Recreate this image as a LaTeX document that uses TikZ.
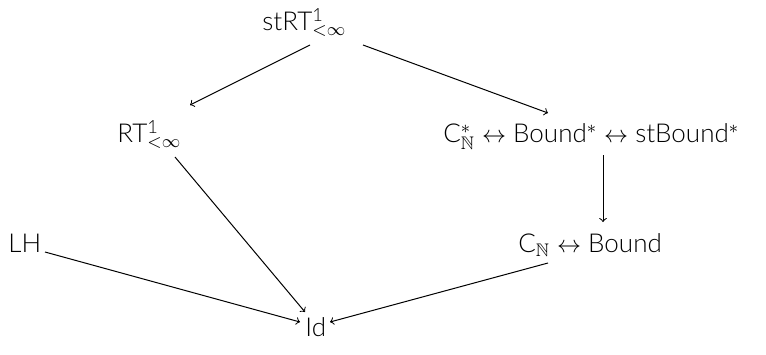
\documentclass[tikz,border=0pt]{standalone}
\usepackage{amsmath,amssymb}
\usepackage{fontspec}
\setmainfont{Lato Light}
\begin{document}
\begin{tikzpicture}[x=0.5pt,y=-0.5pt,
  lbl/.style={inner sep=0pt,anchor=base west,font=\fontsize{13}{15}\selectfont},
  arr/.style={->,line width=0.5pt}]
\useasboundingbox (0,0) rectangle (766,354);
\node[lbl] (st) at (262,30) {stRT$^{\text{1}}_{<\infty}$};
\node[lbl] (rt) at (117,142) {RT$^{\text{1}}_{<\infty}$};
\node[lbl] (cs) at (443,142) {C$^{*}_{\mathbb{N}}$ $\leftrightarrow$ Bound$^{*}$ $\leftrightarrow$ stBound$^{*}$};
\node[lbl] (cn) at (518,252) {C$_{\mathbb{N}}$ $\leftrightarrow$ Bound};
\node[lbl] (lh) at (8,252) {LH};
\node[lbl] (id) at (305,336) {Id};
\draw[arr] ([shift={(48,15)}]st.base west) -- ([shift={(73,-37)}]rt.base west);
\draw[arr] ([shift={(101,15)}]st.base west) -- ([shift={(105,-29)}]cs.base west);
\draw[arr] ([shift={(58,15)}]rt.base west) -- ([shift={(0,-24)}]id.base west);
\draw[arr] ([shift={(160,13)}]cs.base west) -- ([shift={(85,-30)}]cn.base west);
\draw[arr] ([shift={(37,0)}]lh.base west) -- ([shift={(-5,-14)}]id.base west);
\draw[arr] ([shift={(30,11)}]cn.base west) -- ([shift={(25,-14)}]id.base west);
\end{tikzpicture}
\end{document}
